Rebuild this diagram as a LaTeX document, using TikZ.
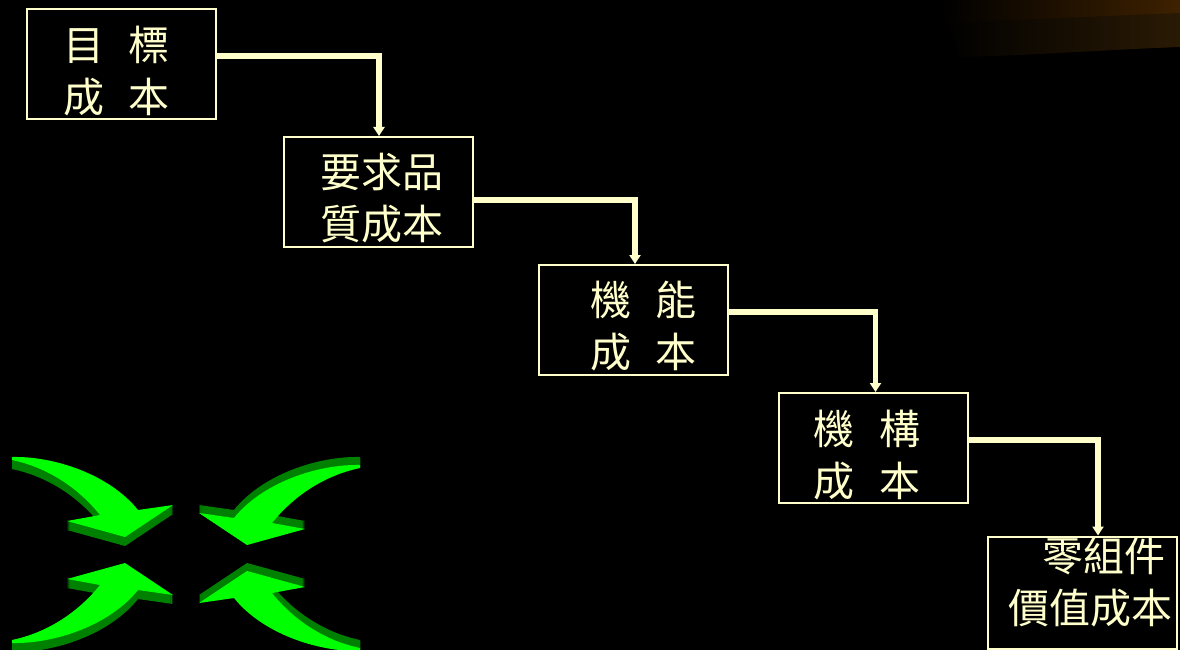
\documentclass[tikz,border=0pt]{standalone}
\usepackage{fontspec}
\newfontfamily\cjkfont{Noto Sans CJK TC}
\usetikzlibrary{arrows.meta}
\definecolor{cream}{HTML}{FFFFCC}
\definecolor{arrowlight}{HTML}{00FF00}
\definecolor{arrowdark}{HTML}{008000}
\definecolor{swooshA}{HTML}{3E2100}
\definecolor{swooshB}{HTML}{2A1A04}

% one face of the curved green arrow (tail top-left, head pointing down)
\newcommand\arrowface[1]{%
  \fill[#1] (12,457) .. controls (55,456) and (110,475) .. (138,510)
    -- (173,505) -- (125,537) -- (67,521) -- (100,515)
    .. controls (80,490) and (50,468) .. (12,460) -- cycle;}

\begin{document}
\begin{tikzpicture}[x=1pt,y=-1pt,
  costbox/.style={draw=cream, line width=2pt, minimum width=189pt,
    minimum height=110pt, inner sep=0pt},
  costtext/.style={text=cream, font=\cjkfont\fontsize{41}{52}\selectfont,
    align=center, inner sep=0pt},
  flow/.style={draw=cream, line width=5.5pt,
    -{Triangle[width=11pt,length=9pt]}},
]
\useasboundingbox (0,0) rectangle (1180,650);
\fill[black] (0,0) rectangle (1180,650);

% brown swoosh in the upper right corner
\shade[left color=black, right color=swooshB]
  (940,0) -- (1180,0) -- (1180,47) .. controls (1100,50) and (1020,56) .. (960,57) -- cycle;
\shade[left color=black, right color=swooshA]
  (940,0) -- (1180,0) -- (1180,13) .. controls (1100,16) and (1010,21) .. (945,22) -- cycle;

% four converging green arrows
\foreach \d in {1,...,9} {\arrowface{arrowdark, yshift=-\d pt}}
\arrowface{arrowlight}

\foreach \d in {0,...,7} {\arrowface{arrowdark, yshift=-\d pt, xshift=372pt, xscale=-1}}
\arrowface{arrowlight, yshift=-8pt, xshift=372pt, xscale=-1}

\foreach \d in {1,...,9} {\arrowface{arrowdark, yshift=-\d pt, yshift=-1100pt, yscale=-1}}
\arrowface{arrowlight, yshift=-1100pt, yscale=-1}

\foreach \d in {0,...,7} {\arrowface{arrowdark, yshift=-\d pt, xshift=372pt, yshift=-1100pt, xscale=-1, yscale=-1}}
\arrowface{arrowlight, yshift=-8pt, xshift=372pt, yshift=-1100pt, xscale=-1, yscale=-1}

% cost boxes
\node[costbox] (b1) at (121.5,64) {};
\node[costbox] (b2) at (378,192) {};
\node[costbox] (b3) at (633.5,320) {};
\node[costbox] (b4) at (873.5,448) {};
\node[costbox, minimum height=112pt] (b5) at (1082,592.5) {};

\node[costtext] (t1) at (116.5,71.5) {目\hspace{0.6em}標\\成\hspace{0.6em}本};
\node[costtext] (t2) at (381.5,198) {要求品\\質成本};
\node[costtext] (t3) at (643.5,326.5) {機\hspace{0.6em}能\\成\hspace{0.6em}本};
\node[costtext] (t4) at (867,455.5) {機\hspace{0.6em}構\\成\hspace{0.6em}本};
\node[costtext, align=right, anchor=east] (t5) at (1173,581.5) {零組件\kern0.18em\\價值成本};

% step connectors
\draw[flow] ([yshift=8pt]b1.east) -| ([xshift=1pt]b2.north);
\draw[flow] ([yshift=-8pt]b2.east) -| ([xshift=1.5pt]b3.north);
\draw[flow] ([yshift=8pt]b3.east) -| ([xshift=2pt]b4.north);
\draw[flow] ([yshift=8pt]b4.east) -| ([xshift=16pt]b5.north);
\end{tikzpicture}
\end{document}
